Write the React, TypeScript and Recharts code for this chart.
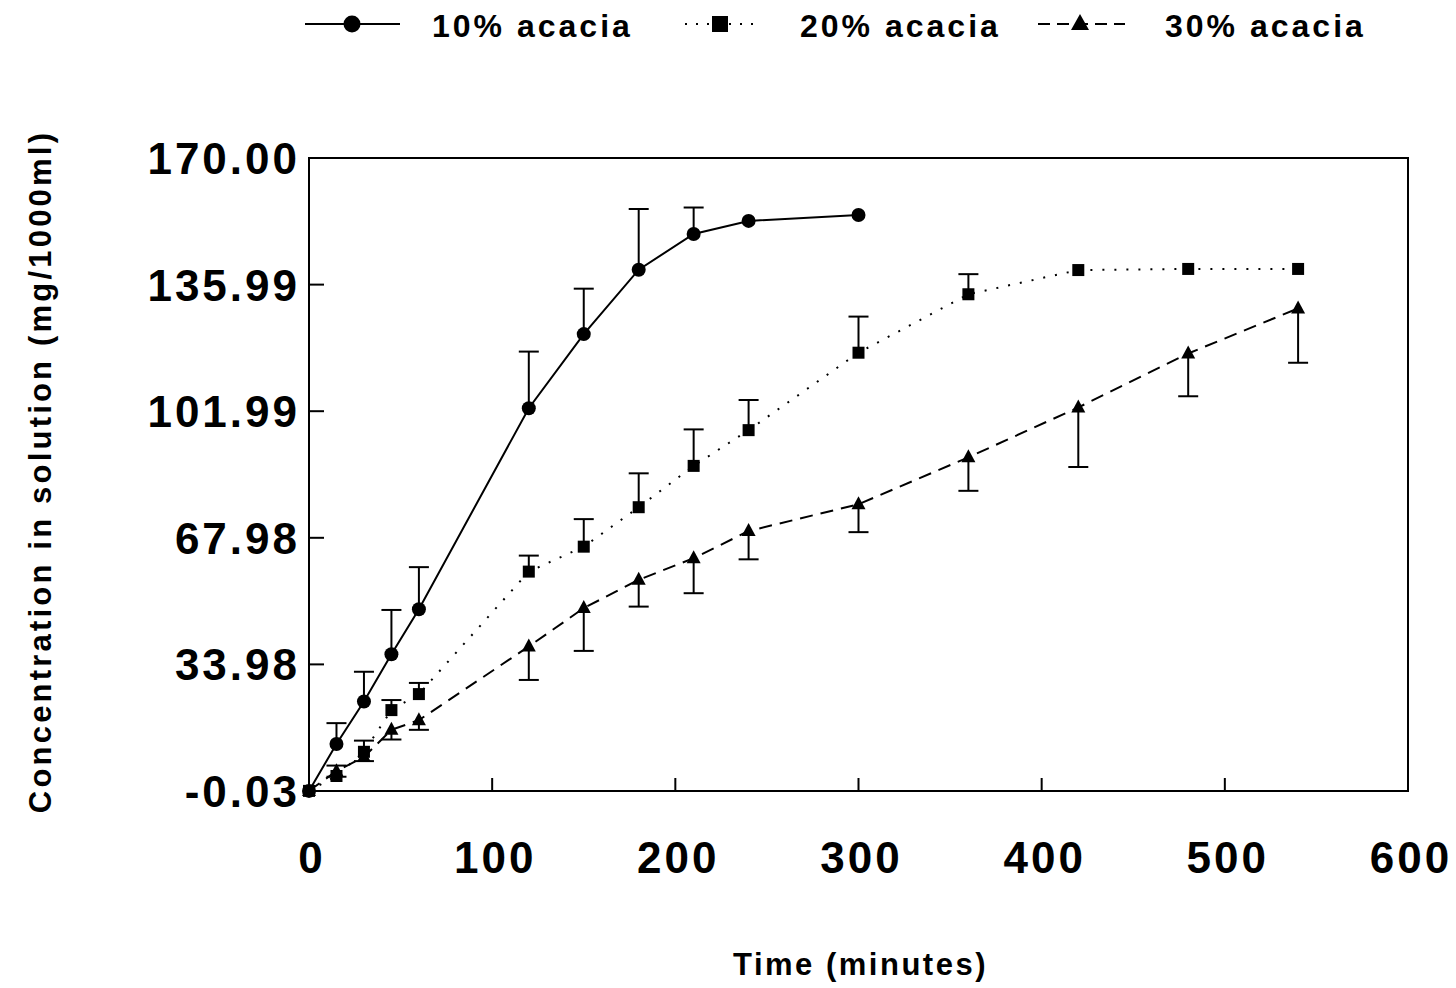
import React from 'react'
import {
  ComposedChart,
  Line,
  Scatter,
  XAxis,
  YAxis,
  ErrorBar,
  Legend,
  ReferenceArea,
} from 'recharts'

// time points (minutes)
const times10 = [0, 15, 30, 45, 60, 120, 150, 180, 210, 240, 300]
const times20 = [0, 15, 30, 45, 60, 120, 150, 180, 210, 240, 300, 360, 420, 480, 540]
const times30 = [0, 15, 30, 45, 60, 120, 150, 180, 210, 240, 300, 360, 420, 480, 540]

// concentration in solution (mg/1000ml)
const conc10 = [0, 12.6, 24.0, 36.7, 48.8, 102.8, 122.7, 140.0, 149.6, 153.1, 154.7]
const conc20 = [0, 4.0, 10.5, 21.7, 26.0, 58.9, 65.6, 76.2, 87.3, 96.9, 117.7, 133.4, 139.9, 140.2, 140.2]
const conc30 = [0, 5.3, 9.1, 16.4, 19.0, 38.8, 49.1, 56.7, 62.5, 69.8, 77.0, 89.6, 103.0, 117.5, 129.6]

// one-sided error bars: upper for 10% / 20%, lower for 30%
const err10 = [0, 5.6, 8.0, 11.9, 11.3, 15.2, 12.2, 16.3, 7.1, 0, 0]
const err20 = [0, 2.8, 3.0, 2.7, 3.0, 4.3, 7.4, 9.1, 9.8, 8.1, 9.7, 5.4, 0, 0, 0]
const err30 = [0, 1.5, 1.1, 2.6, 2.6, 9.0, 11.5, 7.2, 9.4, 7.6, 7.5, 9.0, 16.0, 11.5, 14.6]

const xTicks = [0, 100, 200, 300, 400, 500, 600]
const yTicks = [-0.03, 33.98, 67.98, 101.99, 135.99, 170.0]

const seriesNames = ['10% acacia', '20% acacia', '30% acacia']

const FONT = '"Liberation Sans", Arial, Helvetica, sans-serif'

const buildRows = (times: number[], vals: number[], errs: number[], up: boolean) =>
  times.map((t, i) => ({ t, v: vals[i], e: up ? [0, errs[i]] : [errs[i], 0] }))

const buildCaps = (times: number[], vals: number[], errs: number[], up: boolean) =>
  times
    .map((t, i) => ({ t, v: up ? vals[i] + errs[i] : vals[i] - errs[i], e: errs[i] }))
    .filter((d) => d.e > 0)

const rows10 = buildRows(times10, conc10, err10, true)
const rows20 = buildRows(times20, conc20, err20, true)
const rows30 = buildRows(times30, conc30, err30, false)
const caps10 = buildCaps(times10, conc10, err10, true)
const caps20 = buildCaps(times20, conc20, err20, true)
const caps30 = buildCaps(times30, conc30, err30, false)

const CircleDot = (p: any) => <circle key={p.index} cx={p.cx} cy={p.cy} r={7} fill="#000" />
const SquareDot = (p: any) => (
  <rect key={p.index} x={p.cx - 6} y={p.cy - 6} width={12} height={12} fill="#000" />
)
const TriangleDot = (p: any) => (
  <polygon
    key={p.index}
    points={`${p.cx},${p.cy - 8} ${p.cx - 7},${p.cy + 5} ${p.cx + 7},${p.cy + 5}`}
    fill="#000"
  />
)

const Cap = (p: any) => (
  <line x1={p.cx - 10} x2={p.cx + 10} y1={p.cy} y2={p.cy} stroke="#000" strokeWidth={2} />
)

const YTick = (p: any) => {
  const { x, y, payload } = p
  return (
    <g>
      <line x1={x} x2={x + 15} y1={y} y2={y} stroke="#000" strokeWidth={2} />
      <text
        x={x - 9}
        y={y + 16}
        textAnchor="end"
        fontFamily={FONT}
        fontWeight="bold"
        fontSize={44}
        letterSpacing={3}
        fill="#000"
      >
        {Number(payload.value).toFixed(2)}
      </text>
    </g>
  )
}

const XTick = (p: any) => {
  const { x, y, payload } = p
  return (
    <g>
      <line x1={x} x2={x} y1={y} y2={y - 13} stroke="#000" strokeWidth={2} />
      <text
        x={x + 3}
        y={y + 82}
        textAnchor="middle"
        fontFamily={FONT}
        fontWeight="bold"
        fontSize={44}
        letterSpacing={3}
        fill="#000"
      >
        {payload.value}
      </text>
    </g>
  )
}

const XLabel = ({ viewBox }: any) => (
  <text
    x={viewBox.x + viewBox.width / 2 + 2}
    y={viewBox.y + 184}
    textAnchor="middle"
    fontFamily={FONT}
    fontWeight="bold"
    fontSize={31}
    letterSpacing={2.5}
    fill="#000"
  >
    Time (minutes)
  </text>
)

const YLabel = ({ viewBox }: any) => {
  const cx = 51
  const cy = viewBox.y + viewBox.height / 2 - 3
  return (
    <text
      x={cx}
      y={cy}
      transform={`rotate(-90 ${cx} ${cy})`}
      textAnchor="middle"
      fontFamily={FONT}
      fontWeight="bold"
      fontSize={31}
      letterSpacing={3.2}
      fill="#000"
    >
      Concentration in solution (mg/1000ml)
    </text>
  )
}

const LegendBox = () => {
  const textProps = {
    fontFamily: FONT,
    fontWeight: 'bold' as const,
    fontSize: 32,
    letterSpacing: 3,
    fill: '#000',
  }
  return (
    <svg width={1456} height={50} style={{ display: 'block' }}>
      <line x1={305} x2={400} y1={24} y2={24} stroke="#000" strokeWidth={2} />
      <circle cx={352} cy={24} r={8.5} fill="#000" />
      <text x={432} y={37} {...textProps}>{seriesNames[0]}</text>

      <line x1={685} x2={760} y1={24} y2={24} stroke="#000" strokeWidth={2} strokeDasharray="2 9" />
      <rect x={712} y={16} width={16} height={16} fill="#000" />
      <text x={800} y={37} {...textProps}>{seriesNames[1]}</text>

      <line x1={1038} x2={1125} y1={24} y2={24} stroke="#000" strokeWidth={2} strokeDasharray="12 7" />
      <polygon points="1080,14 1071,30 1089,30" fill="#000" />
      <text x={1165} y={37} {...textProps}>{seriesNames[2]}</text>
    </svg>
  )
}

export default function App() {
  return (
    <div style={{ position: 'absolute', left: 0, top: 0, width: 1456, height: 988, background: '#fff' }}>
      <ComposedChart width={1456} height={988} margin={{ top: 108, right: 48, bottom: 0, left: 0 }}>
        <Legend
          verticalAlign="top"
          content={<LegendBox />}
          wrapperStyle={{ top: 0, left: 0, width: 1456, height: 50 }}
        />
        <XAxis
          dataKey="t"
          type="number"
          domain={[0, 600]}
          ticks={xTicks}
          interval={0}
          height={197}
          axisLine={false}
          tickLine={false}
          tickSize={0}
          tickMargin={0}
          tick={<XTick />}
          label={{ content: <XLabel /> }}
        />
        <YAxis
          type="number"
          domain={[-0.03, 170]}
          ticks={yTicks}
          interval={0}
          width={309}
          axisLine={false}
          tickLine={false}
          tickSize={0}
          tickMargin={0}
          tick={<YTick />}
          label={{ content: <YLabel /> }}
        />
        <ReferenceArea x1={0} x2={600} y1={-0.03} y2={170} fill="none" stroke="#000" strokeWidth={2} />

        <Line
          data={rows10}
          dataKey="v"
          name={seriesNames[0]}
          stroke="#000"
          strokeWidth={2}
          dot={CircleDot}
          activeDot={false}
          isAnimationActive={false}
        >
          <ErrorBar dataKey="e" direction="y" width={0} stroke="#000" strokeWidth={2} />
        </Line>
        <Line
          data={rows30}
          dataKey="v"
          name={seriesNames[2]}
          stroke="#000"
          strokeWidth={2}
          strokeDasharray="13 8"
          dot={TriangleDot}
          activeDot={false}
          isAnimationActive={false}
        >
          <ErrorBar dataKey="e" direction="y" width={0} stroke="#000" strokeWidth={2} />
        </Line>
        <Line
          data={rows20}
          dataKey="v"
          name={seriesNames[1]}
          stroke="#000"
          strokeWidth={2}
          strokeDasharray="2 10"
          dot={SquareDot}
          activeDot={false}
          isAnimationActive={false}
        >
          <ErrorBar dataKey="e" direction="y" width={0} stroke="#000" strokeWidth={2} />
        </Line>

        <Scatter data={caps10} dataKey="v" shape={Cap} legendType="none" isAnimationActive={false} />
        <Scatter data={caps20} dataKey="v" shape={Cap} legendType="none" isAnimationActive={false} />
        <Scatter data={caps30} dataKey="v" shape={Cap} legendType="none" isAnimationActive={false} />
      </ComposedChart>
    </div>
  )
}
